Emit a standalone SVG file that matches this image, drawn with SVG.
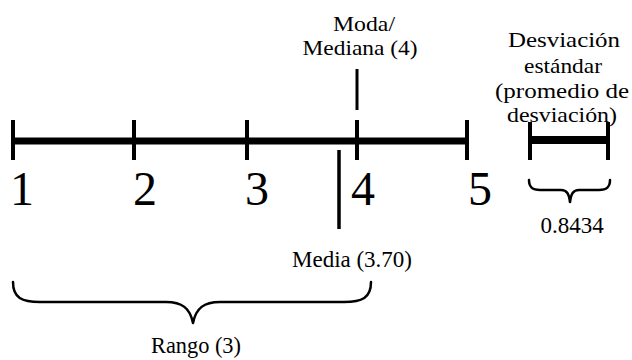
<svg xmlns="http://www.w3.org/2000/svg" width="632" height="360" viewBox="0 0 632 360">
<style>
text{font-family:'Liberation Serif','Times New Roman',serif;fill:#000}
.lbl{font-size:24px;text-anchor:middle}
.stk{font-size:22px}
.num{font-size:48px}
.bar{stroke:#000;stroke-linecap:butt;fill:none}
.brace{stroke:#000;stroke-width:2.5;fill:none;stroke-linecap:round;stroke-linejoin:round}
</style>
<rect width="632" height="360" fill="#fff"/>
<g id="connectors">
  <line class="bar" x1="12" y1="141" x2="467" y2="141" stroke-width="7"/>
  <line class="bar" x1="13" y1="120" x2="13" y2="160" stroke-width="4"/>
  <line class="bar" x1="134" y1="120" x2="134" y2="160" stroke-width="4"/>
  <line class="bar" x1="247" y1="120" x2="247" y2="160" stroke-width="4"/>
  <line class="bar" x1="357" y1="120" x2="357" y2="160" stroke-width="4"/>
  <line class="bar" x1="467" y1="120" x2="467" y2="160" stroke-width="4"/>
  <line class="bar" x1="357" y1="69" x2="357" y2="110" stroke-width="3"/>
  <line class="bar" x1="339" y1="150" x2="339" y2="229" stroke-width="3.5"/>
  <line class="bar" x1="529" y1="140" x2="608" y2="140" stroke-width="8"/>
  <line class="bar" x1="530" y1="122" x2="530" y2="160" stroke-width="4"/>
  <line class="bar" x1="608" y1="122" x2="608" y2="160" stroke-width="4"/>
  <path class="brace" d="M13,282 C13,298 22,302 40,302 L166,302 C182,302 190,308 193,323 C196,308 204,302 220,302 L344,302 C362,302 371,298 371,282"/>
  <path class="brace" stroke-width="2" d="M529,180 C529,188 533,190 540,190 L561,190 C567,190 569,194 570,202 C571,194 573,190 579,190 L599,190 C606,190 610,188 610,180"/>
</g>
<g id="ticks-labels">
  <text class="num" font-family="Liberation Serif, serif" x="10" y="205">1</text>
  <text class="num" font-family="Liberation Serif, serif" x="133" y="205">2</text>
  <text class="num" font-family="Liberation Serif, serif" x="245" y="205">3</text>
  <text class="num" font-family="Liberation Serif, serif" x="351" y="205">4</text>
  <text class="num" font-family="Liberation Serif, serif" x="468" y="205">5</text>
</g>
<g id="moda">
  <text class="lbl stk" font-family="Liberation Serif, serif" x="364" y="31" textLength="62" lengthAdjust="spacingAndGlyphs">Moda/</text>
  <text class="lbl stk" font-family="Liberation Serif, serif" x="360" y="55" textLength="115" lengthAdjust="spacingAndGlyphs">Mediana (4)</text>
</g>
<g id="desviacion">
  <text class="lbl stk" font-family="Liberation Serif, serif" x="564" y="47" textLength="112" lengthAdjust="spacingAndGlyphs">Desviación</text>
  <text class="lbl stk" font-family="Liberation Serif, serif" x="563" y="73" textLength="78" lengthAdjust="spacingAndGlyphs">estándar</text>
  <text class="lbl stk" font-family="Liberation Serif, serif" x="562" y="98" textLength="134" lengthAdjust="spacingAndGlyphs">(promedio de</text>
  <text class="lbl stk" font-family="Liberation Serif, serif" x="562" y="122" textLength="110" lengthAdjust="spacingAndGlyphs">desviación)</text>
</g>
<g id="media">
  <text class="lbl" font-family="Liberation Serif, serif" x="352" y="267" textLength="120" lengthAdjust="spacingAndGlyphs">Media (3.70)</text>
</g>
<g id="rango">
  <text class="lbl" font-family="Liberation Serif, serif" x="196" y="353" textLength="90" lengthAdjust="spacingAndGlyphs">Rango (3)</text>
</g>
<g id="valor-desviacion">
  <text class="lbl" font-family="Liberation Serif, serif" style="font-size:23px" x="572" y="233">0.8434</text>
</g>
</svg>
